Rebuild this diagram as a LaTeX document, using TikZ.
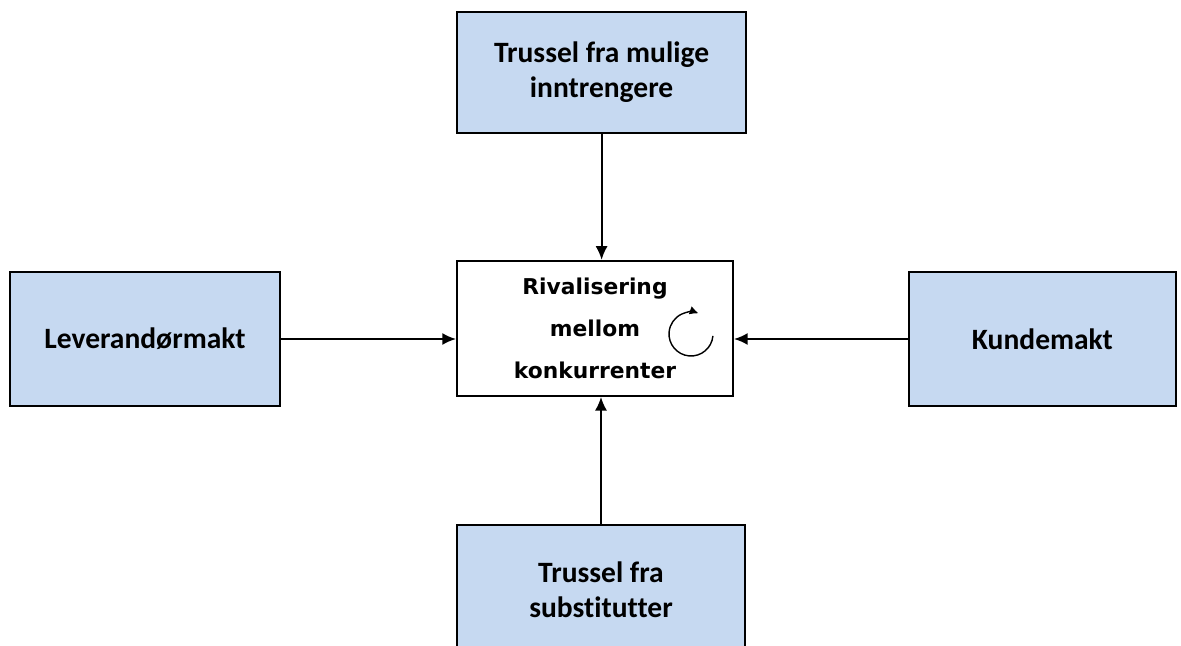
\documentclass[tikz,border=0pt]{standalone}
\usepackage{fontspec}
\setmainfont{Carlito}[Ligatures=NoCommon]
\newfontfamily\rivalfont{DejaVu Sans}
\usetikzlibrary{positioning,arrows.meta}
\definecolor{forceblue}{HTML}{C6D9F1}
\tikzset{
  forcearrow/.style={-{Latex[length=3.4mm, width=3mm]}, line width=1.3pt},
  forcebox/.style={draw, line width=1.5pt, fill=forceblue, align=center, inner sep=2pt,
    font=\fontsize{21}{25}\selectfont\bfseries},
  rivalbox/.style={draw, line width=1.5pt, fill=white, align=center, inner sep=2pt,
    font=\rivalfont\fontsize{15.5}{30}\selectfont\bfseries}
}

\begin{document}
\begin{tikzpicture}
  \useasboundingbox (0,0) rectangle (29.525,-16.15);
  \node[rivalbox, minimum width=6.9cm, minimum height=3.375cm] (rival) at (14.875,-8.21)
    {Rivalisering\\mellom\\konkurrenter};
  \node[forcebox, minimum width=7.225cm, minimum height=3.025cm] (entrants) at (15.04,-1.81)
    {Trussel fra mulige\\inntrengere};
  \node[forcebox, minimum width=6.75cm, minimum height=3.35cm] (suppliers) at (3.625,-8.475)
    {Leverandørmakt};
  \node[forcebox, minimum width=6.675cm, minimum height=3.35cm] (buyers) at (26.06,-8.475)
    {Kundemakt};
  \node[forcebox, minimum width=7.2cm, minimum height=3.25cm] (substitutes) at (15.025,-14.75)
    {Trussel fra\\substitutter};
  % forces acting on the rivalry
  \draw[forcearrow] (entrants.south) -- (entrants.south |- rival.north);
  \draw[forcearrow] (substitutes.north) -- (substitutes.north |- rival.south);
  \draw[forcearrow] (suppliers.east) -- (suppliers.east -| rival.west);
  \draw[forcearrow] (buyers.west) -- (buyers.west -| rival.east);
  % circular arrow inside the rivalry box
  \draw[-{Latex[length=2.2mm, width=2.2mm]}, line width=1pt]
    ([shift={(2.4,-0.14)}]rival.center) ++(-5:0.55) arc[start angle=-5, end angle=-290, radius=0.55];
\end{tikzpicture}
\end{document}
